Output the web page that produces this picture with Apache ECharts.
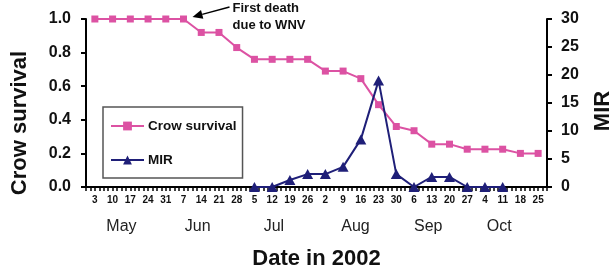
<!DOCTYPE html>
<html>
<head>
<meta charset="utf-8">
<script src="https://cdn.jsdelivr.net/npm/echarts@6/dist/echarts.min.js"></script>
<style>
html,body{margin:0;padding:0;background:#fff;}
#chart{width:615px;height:270px;}
</style>
</head>
<body>
<div id="chart"></div>
<script>
// ---- data ----
const days = ['3','10','17','24','31','7','14','21','28','5','12','19','26','2','9','16','23','30','6','13','20','27','4','11','18','25'];
const months = ['May','Jun','Jul','Aug','Sep','Oct'];
const monthPos = [1.5, 5.8, 10.1, 14.7, 18.8, 22.8];
const crowSurvival = [1,1,1,1,1,1,0.92,0.92,0.83,0.76,0.76,0.76,0.76,0.69,0.69,0.645,0.49,0.36,0.335,0.255,0.255,0.225,0.225,0.225,0.2,0.2];
const mir = [null,null,null,null,null,null,null,null,null,0,0,1.25,2.3,2.3,3.6,8.5,19,2.3,0,1.8,1.8,0,0,0,null,null];

const PINK = '#DC52A3';
const NAVY = '#1F1F78';
const FONT = '"Liberation Sans", Arial, Helvetica, sans-serif';

const chart = echarts.init(document.getElementById('chart'), null, {renderer:'canvas'});

const option = {
  animation:false,
  backgroundColor:'#fff',
  textStyle:{fontFamily:FONT},
  grid:{left:86, right:68, top:19, bottom:83, containLabel:false, outerBoundsMode:'none'},
  legend:{
    orient:'vertical', left:103, top:107,
    data:['Crow survival','MIR'],
    itemWidth:33, itemHeight:11, itemGap:20,
    padding:[12,6,11,7],
    borderColor:'#555', borderWidth:1.5,
    textStyle:{fontFamily:FONT, fontSize:13.5, fontWeight:'bold', color:'#111', padding:[0,0,0,-1]}
  },
  xAxis:[
    {
      type:'category', data:days, position:'bottom', boundaryGap:true,
      axisLine:{show:true, onZero:false, lineStyle:{color:'#000', width:2}},
      axisTick:{show:false},
      axisLabel:{interval:0, fontSize:10, fontWeight:'bold', color:'#111', margin:8},
      splitLine:{show:false},
      name:'Date in 2002', nameLocation:'middle', nameGap:61,
      nameTextStyle:{fontSize:22, fontWeight:'bold', color:'#111', fontFamily:FONT}
    },
    {
      type:'value', min:-0.5, max:25.5, interval:0.25, position:'bottom',
      axisLine:{show:false, onZero:false},
      axisTick:{show:true, length:4, lineStyle:{color:'#000', width:1.5}},
      axisLabel:{show:false}, splitLine:{show:false}
    },
    {
      type:'value', min:-0.5, max:25.5, position:'bottom',
      axisLine:{show:false, onZero:false}, axisTick:{show:false}, splitLine:{show:false},
      axisLabel:{
        customValues:monthPos, margin:32, fontSize:16, color:'#222',
        formatter:function(v){
          let best=0, d=1e9;
          monthPos.forEach(function(p,i){ if(Math.abs(p-v)<d){d=Math.abs(p-v);best=i;} });
          return months[best];
        }
      }
    }
  ],
  yAxis:[
    {
      type:'value', min:0, max:1, interval:0.2, position:'left',
      axisLine:{show:true, onZero:false, lineStyle:{color:'#000', width:2}},
      axisTick:{show:true, length:5, lineStyle:{color:'#000', width:2}},
      axisLabel:{fontSize:16, fontWeight:'bold', color:'#111', margin:15,
        formatter:function(v){return v.toFixed(1);}},
      splitLine:{show:false},
      name:'Crow survival', nameLocation:'middle', nameGap:55,
      nameTextStyle:{fontSize:22, fontWeight:'bold', color:'#111', fontFamily:FONT, padding:[0,40,0,0]}
    },
    {
      type:'value', min:0, max:30, interval:5, position:'right',
      axisLine:{show:true, onZero:false, lineStyle:{color:'#000', width:2}},
      axisTick:{show:true, length:5, lineStyle:{color:'#000', width:2}},
      axisLabel:{fontSize:16, fontWeight:'bold', color:'#111', margin:14},
      splitLine:{show:false},
      name:'MIR', nameLocation:'middle', nameGap:45,
      nameTextStyle:{fontSize:22, fontWeight:'bold', color:'#111', fontFamily:FONT, padding:[0,16,0,0]}
    }
  ],
  series:[
    {
      name:'Crow survival', type:'line', xAxisIndex:0, yAxisIndex:0,
      data:crowSurvival, symbol:'rect', symbolSize:7, showAllSymbol:true,
      color:PINK, itemStyle:{color:PINK}, lineStyle:{color:PINK, width:2}, z:3
    },
    {
      name:'MIR', type:'line', xAxisIndex:0, yAxisIndex:1,
      data:mir, symbol:'triangle', symbolSize:[11,10], showAllSymbol:true, connectNulls:false,
      color:NAVY, itemStyle:{color:NAVY}, lineStyle:{color:NAVY, width:2}, z:4
    }
  ]
};
chart.setOption(option);

// annotation anchored on the first-death point (7 Jun)
const p = chart.convertToPixel({xAxisIndex:0, yAxisIndex:0}, [5, crowSurvival[5]]);
const tip = [p[0]+9, p[1]-2];
const tail = [p[0]+46, p[1]-12];
const dx = tail[0]-tip[0], dy = tail[1]-tip[1];
const L = Math.sqrt(dx*dx+dy*dy);
const ux = dx/L, uy = dy/L;
const base = [tip[0]+ux*10, tip[1]+uy*10];
const px = -uy, py = ux;
chart.setOption({
  graphic:[
    {type:'line', shape:{x1:tail[0], y1:tail[1], x2:base[0], y2:base[1]}, style:{stroke:'#000', lineWidth:1.5}, z:10},
    {type:'polygon', shape:{points:[tip,[base[0]+px*4.5, base[1]+py*4.5],[base[0]-px*4.5, base[1]-py*4.5]]}, style:{fill:'#000'}, z:10},
    {type:'text', left:p[0]+49, top:0, z:10,
      style:{text:'First death\ndue to WNV', font:'bold 13px ' + FONT, fill:'#111', lineHeight:17}}
  ]
});
</script>
</body>
</html>
